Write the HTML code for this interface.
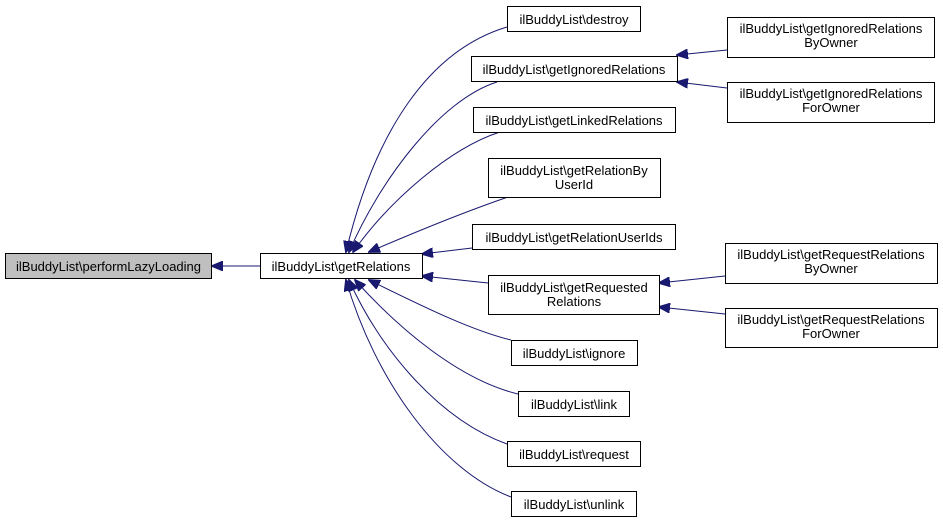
<!DOCTYPE html>
<html><head><meta charset="utf-8"><style>
html,body{margin:0;padding:0;background:#fff;width:943px;height:525px;overflow:hidden}
svg text{font-family:"Liberation Sans",sans-serif;font-size:13px;fill:#000}
</style></head><body>
<svg width="943" height="525" viewBox="0 0 943 525" xmlns="http://www.w3.org/2000/svg">
<defs>
<marker id="a" markerWidth="12" markerHeight="10" refX="11" refY="5" orient="auto" markerUnits="userSpaceOnUse">
<path d="M0,0 L12,5 L0,10 Z" fill="#191970" stroke="#191970"/>
</marker>
</defs>
<g fill="none" stroke="#191970" stroke-width="1">
<path d="M260,266 L212,266" marker-end="url(#a)"/>
<path d="M507,27 C430,50 375,130 346,252" marker-end="url(#a)"/>
<path d="M497,82 C440,100 380,180 349,252" marker-end="url(#a)"/>
<path d="M500,132 C450,148 390,200 353,252" marker-end="url(#a)"/>
<path d="M508,197 C470,210 420,230 369,252" marker-end="url(#a)"/>
<path d="M472,248 L422,254" marker-end="url(#a)"/>
<path d="M488,283 L422,276" marker-end="url(#a)"/>
<path d="M511,340 C470,330 420,305 369,280" marker-end="url(#a)"/>
<path d="M518,394 C460,380 400,330 355,280" marker-end="url(#a)"/>
<path d="M507,444 C440,420 380,350 349,280" marker-end="url(#a)"/>
<path d="M511,497 C440,470 375,380 346,280" marker-end="url(#a)"/>
<path d="M727,50 L677,55" marker-end="url(#a)"/>
<path d="M727,88 L677,82" marker-end="url(#a)"/>
<path d="M725,276 L659,283" marker-end="url(#a)"/>
<path d="M725,314 L659,307" marker-end="url(#a)"/>
</g>
<g stroke="#000" stroke-width="1" fill="#fff">
<rect x="5.5" y="253.5" width="206" height="25" fill="#bfbfbf"/>
<rect x="260.5" y="253.5" width="162" height="25"/>
<rect x="507.5" y="6.5" width="133" height="25"/>
<rect x="471.5" y="56.5" width="206" height="25"/>
<rect x="473.5" y="107.5" width="202" height="25"/>
<rect x="488.5" y="158.5" width="172" height="39"/>
<rect x="472.5" y="224.5" width="203" height="25"/>
<rect x="488.5" y="275.5" width="171" height="39"/>
<rect x="511.5" y="340.5" width="126" height="25"/>
<rect x="518.5" y="391.5" width="111" height="25"/>
<rect x="507.5" y="441.5" width="133" height="25"/>
<rect x="511.5" y="491.5" width="125" height="25"/>
<rect x="727.5" y="17.5" width="207" height="40"/>
<rect x="727.5" y="82.5" width="207" height="40"/>
<rect x="725.5" y="243.5" width="212" height="40"/>
<rect x="725.5" y="308.5" width="212" height="39"/>
</g>
<g text-anchor="middle">
<text x="108.5" y="271">ilBuddyList\performLazyLoading</text>
<text x="341" y="271">ilBuddyList\getRelations</text>
<text x="574" y="24">ilBuddyList\destroy</text>
<text x="574" y="74">ilBuddyList\getIgnoredRelations</text>
<text x="574" y="125">ilBuddyList\getLinkedRelations</text>
<text x="574" y="175">ilBuddyList\getRelationBy</text>
<text x="574" y="189">UserId</text>
<text x="574" y="242">ilBuddyList\getRelationUserIds</text>
<text x="574" y="292">ilBuddyList\getRequested</text>
<text x="574" y="306">Relations</text>
<text x="574" y="358">ilBuddyList\ignore</text>
<text x="574" y="409">ilBuddyList\link</text>
<text x="574" y="459">ilBuddyList\request</text>
<text x="574" y="509">ilBuddyList\unlink</text>
<text x="831" y="33">ilBuddyList\getIgnoredRelations</text>
<text x="831" y="47">ByOwner</text>
<text x="831" y="98">ilBuddyList\getIgnoredRelations</text>
<text x="831" y="112">ForOwner</text>
<text x="831" y="259">ilBuddyList\getRequestRelations</text>
<text x="831" y="273">ByOwner</text>
<text x="831" y="324">ilBuddyList\getRequestRelations</text>
<text x="831" y="338">ForOwner</text>
</g>
</svg>
</body></html>
